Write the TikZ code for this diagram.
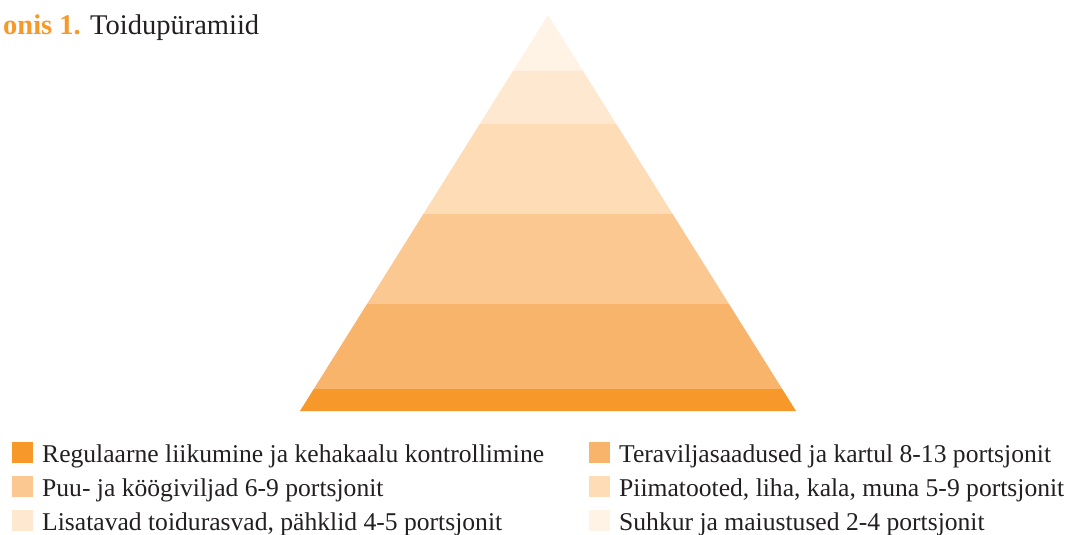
\documentclass[tikz,border=0pt]{standalone}
\usepackage{fontspec}
\setmainfont{Liberation Serif}
\usepackage{xcolor}
\usetikzlibrary{calc}
\definecolor{pyrA}{HTML}{FEF3E5}
\definecolor{pyrB}{HTML}{FEE8D0}
\definecolor{pyrC}{HTML}{FDDCB6}
\definecolor{pyrD}{HTML}{FCC891}
\definecolor{pyrE}{HTML}{F9B46B}
\definecolor{pyrF}{HTML}{F6982A}
\definecolor{txt}{HTML}{231F20}
\tikzset{
 legbox/.style={minimum size=21pt, inner sep=0, anchor=north west},
 legtext/.style={anchor=base west, inner sep=0, text=txt, font=\fontsize{25.6}{30}\selectfont}
}

\begin{document}
\begin{tikzpicture} [x=1pt, y=-1pt]
\useasboundingbox (0,0) rectangle (1069,535);
% title
\node[anchor=base east, inner sep=0, text=pyrF, font=\fontsize{28.5}{32}\selectfont\bfseries] (fig) at (81,35) {onis 1.};
\node[anchor=base west, inner sep=0, text=txt, font=\fontsize{28.5}{32}\selectfont] (title) at (90,35) {Toidupüramiid};

% pyramid bands, apex (548,15), base 411
\foreach \ya/\yb/\col in {15/71/pyrA, 71/124/pyrB, 124/214/pyrC, 214/304/pyrD, 304/389/pyrE, 389/411/pyrF} {
 \pgfmathsetmacro\wa{(\ya-15)*0.6263}
 \pgfmathsetmacro\wb{(\yb-15)*0.6263}
 \fill[\col] ({548-\wa},\ya) -- ({548+\wa},\ya) -- ({548+\wb},\yb) -- ({548-\wb},\yb) -- cycle;
}

% legend
\node[legbox, fill=pyrF] (boxa) at (12,442) {};
\node[legtext] (laba) at (42,462) {Regulaarne liikumine ja kehakaalu kontrollimine};
\node[legbox, fill=pyrD] (boxb) at (12,476) {};
\node[legtext] (labb) at (42,496) {Puu- ja köögiviljad 6-9 portsjonit};
\node[legbox, fill=pyrB] (boxc) at (12,510) {};
\node[legtext] (labc) at (42,530) {Lisatavad toidurasvad, pähklid 4-5 portsjonit};

\node[legbox, fill=pyrE] (boxd) at (589,442) {};
\node[legtext] (labd) at (619,462) {Teraviljasaadused ja kartul 8-13 portsjonit};
\node[legbox, fill=pyrC] (boxe) at (589,476) {};
\node[legtext] (labe) at (619,496) {Piimatooted, liha, kala, muna 5-9 portsjonit};
\node[legbox, fill=pyrA] (boxf) at (589,510) {};
\node[legtext] (labf) at (619,530) {Suhkur ja maiustused 2-4 portsjonit};
\end{tikzpicture}
\end{document}
